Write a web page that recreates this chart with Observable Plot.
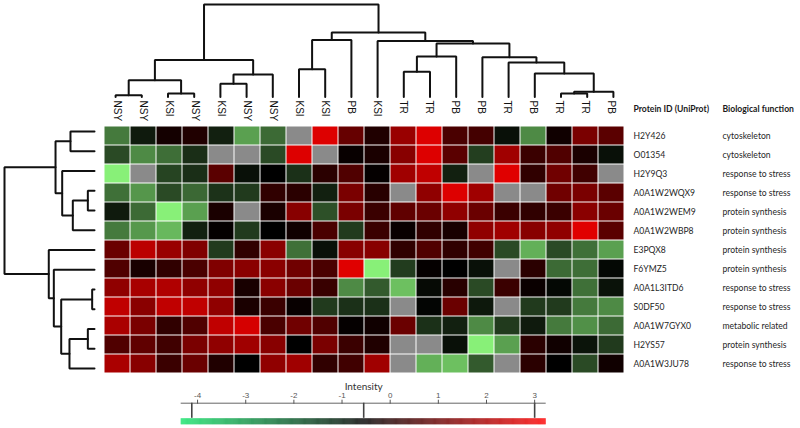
<!DOCTYPE html>
<html><head><meta charset="utf-8">
<script src="https://cdn.jsdelivr.net/npm/d3@7"></script>
<script src="https://cdn.jsdelivr.net/npm/@observablehq/plot@0.6"></script>
<style>
html,body{margin:0;padding:0;background:#fff;}
#chart{position:relative;width:800px;height:428px;overflow:hidden;background:#fff;}
</style></head><body><div id="chart"></div>
<script>
// ---- data ----
const colLabels = ["NSY","NSY","KSI","NSY","KSI","NSY","NSY","KSI","KSI","PB","KSI","TR","TR","PB","PB","TR","PB","TR","TR","PB"];
const proteinIds = ["H2Y426","O01354","H2Y9Q3","A0A1W2WQX9","A0A1W2WEM9","A0A1W2WBP8","E3PQX8","F6YMZ5","A0A1L3ITD6","S0DF50","A0A1W7GYX0","H2YS57","A0A1W3JU78"];
const functions = ["cytoskeleton","cytoskeleton","response to stress","response to stress","protein synthesis","protein synthesis","protein synthesis","protein synthesis","response to stress","response to stress","metabolic related","protein synthesis","response to stress"];

// intensity per protein (columns in display order), null = missing
const vH2Y426     = [-2.26,-0.91,-0.27,-0.10,-1.00,-2.79,-2.03, null, 2.53, 0.87,-0.10, 1.58, 2.53, 0.48, 0.40,-0.77,-2.48,-0.33, 1.15, 0.70];
const vO01354     = [-1.59,-2.48,-2.09,-1.19, null, null,-1.59, 2.53, null,-0.44,-0.19, 1.34, 2.53, 0.70,-1.42, 1.68, 0.26, 0.56,-0.19,-0.77];
const vH2Y9Q3     = [-3.91, null,-1.50,-1.19, 0.70,-0.77,-0.55,-1.22, 0.03, 0.56,-0.48, 1.68, 2.12,-1.00, null, 2.57, 0.12, 1.01, 0.34, null];
const vA0A1W2WQX9 = [-2.12,-2.65,-1.59,-2.01,-1.25,-1.36, 0.12, 0.03,-1.00, 1.15, 0.01, null, 1.45, 2.53, 1.68, null, null, 1.01, 1.15, 0.70];
const vA0A1W2WEM9 = [-0.91,-2.03,-3.91,-2.79,-0.19, null,-0.19, 1.34,-1.67, 1.15, 0.26, 0.79, 0.93, 1.45, 0.93, 0.26, 0.12, 0.26, 1.37, 0.93];
const vA0A1W2WBP8 = [-2.26,-2.68,-3.13,-1.00,-0.48,-1.36,-0.55,-0.33, 0.48,-1.36, 0.26,-0.44, 0.12,-0.22, 1.45, 1.68, 1.34, 1.45, 2.57, 0.70];
const vE3PQX8     = [ 0.93, 2.05, 1.58, 1.23,-1.36, 0.12, 1.37,-2.12,-0.77, 1.34, 1.34, 0.12, 0.56, 0.12, 0.34,-1.59,-3.01,-1.59,-2.12,-2.79];
const vF6YMZ5     = [ 0.56,-0.22, 0.12, 0.48, 1.23, 1.37, 1.37, 1.01, 0.48, 2.57,-3.91,-1.39,-0.48,-0.55,-0.77, null, 0.03,-2.03,-2.09,-0.66];
const vA0A1L3ITD6 = [ 1.45, 1.79, 1.90, 1.45, 1.45,-0.22, 1.37, 0.93, 0.23,-2.48,-1.81,-3.24,-0.69, 0.01,-1.59, 0.26,-0.41,-0.66,-2.12,-0.80];
const vS0DF50     = [ 2.12, 1.37, 2.12, 2.12, 1.45,-0.19, 0.26,-0.44,-1.36,-1.22,-1.22, null,-0.62, 0.93,-0.88, null,-1.36,-1.36,-2.26,-2.48];
const vA0A1W7GYX0 = [ 1.82, 1.15, 0.12, 0.56, 2.12, 2.41, 0.48, 1.01, 0.56,-0.48,-0.33, 0.93,-1.22,-1.00,-2.48,-1.36,-0.91,-2.26,-2.57,-2.03];
const vH2YS57     = [ 0.56, 0.79, 0.34, 1.15, 1.45, 1.68, 1.34,-0.55, 1.15, 0.26,-0.10, null, null,-0.77,-3.91,-2.79, 0.03,-0.33,-0.83,-1.36];
const vA0A1W3JU78 = [ 1.82, 1.34, 0.26, 0.93,-0.10,-0.55, 1.45, 1.68, 0.12, 0.34, 1.68, null,-3.01,-3.24,-1.81, null, 0.03,-0.55,-1.59,-0.33];
const rowValues = [vH2Y426,vO01354,vH2Y9Q3,vA0A1W2WQX9,vA0A1W2WEM9,vA0A1W2WBP8,vE3PQX8,vF6YMZ5,vA0A1L3ITD6,vS0DF50,vA0A1W7GYX0,vH2YS57,vA0A1W3JU78];

// column dendrogram: [childA, childB, height]; ids >= 20 refer to earlier merges
const colMerges = [
  [0,1,0.019],[2,3,0.037],[20,21,0.179],[4,5,0.142],[23,6,0.243],[22,24,0.399],
  [7,8,0.299],[26,9,0.616],[11,12,0.272],[28,13,0.437],[17,18,0.037],[30,19,0.056],
  [16,31,0.254],[15,32,0.373],[14,33,0.429],[29,34,0.578],[10,35,0.605],[27,36,0.698],[25,37,1.0]
];
// row dendrogram: ids >= 13 refer to earlier merges
const rowMerges = [
  [3,4,0.074],[13,5,0.241],[2,14,0.359],[0,1,0.267],[16,15,0.433],
  [8,9,0.026],[10,11,0.074],[19,12,0.278],[18,20,0.370],[7,21,0.452],[6,22,0.508],[17,23,1.0]
];

const legendTicks = [-4,-3,-2,-1,0,1,2,3];
const legendMarks = [-4.12,-0.55,3.0];
const legendExtent = [-4.34, 3.24];

// ---- helpers ----
function dendroPaths(n, merges) {
  const pos = d3.range(n), hgt = new Array(n).fill(0), out = [];
  merges.forEach(([a,b,h], k) => {
    out.push({id:k,p:pos[a],h:hgt[a]},{id:k,p:pos[a],h},{id:k,p:pos[b],h},{id:k,p:pos[b],h:hgt[b]});
    pos.push((pos[a]+pos[b])/2); hgt.push(h);
  });
  return out;
}
const overlay = {position:"absolute", left:"0px", top:"0px", background:"transparent", overflow:"visible"};
const W = 800, H = 428;
const labelFont = "Lato, 'Open Sans', sans-serif";
const colFont = "'Liberation Sans', Arial, sans-serif";
const labelSize = 8.6;

const cells = proteinIds.flatMap((id, r) => rowValues[r].map((v, c) => ({id, c, v})));

// ---- heatmap ----
const heat = Plot.plot({
  width: W, height: H,
  marginLeft: 102, marginRight: 174, marginTop: 121, marginBottom: 50,
  style: overlay,
  x: {type: "band", domain: d3.range(colLabels.length), padding: 0, axis: null},
  y: {type: "band", domain: proteinIds, padding: 0, axis: null},
  color: {type: "linear", domain: [-4.12, -0.55, 3.0], range: ["#90ff80", "#000000", "#ff0000"], interpolate: "rgb", clamp: true},
  marks: [
    Plot.cell(cells.filter(d => d.v == null), {x: "c", y: "id", fill: "#8a8a8a", inset: 0.5}),
    Plot.cell(cells.filter(d => d.v != null), {x: "c", y: "id", fill: "v", inset: 0.5}),
    Plot.text(d3.range(colLabels.length), {x: d => d, text: d => colLabels[d], frameAnchor: "top", dy: -21, rotate: 90,
      textAnchor: "start", lineAnchor: "middle", fontSize: 10, fontFamily: colFont, fill: "#111"}),
    Plot.text(proteinIds, {y: d => d, text: d => d, frameAnchor: "right", dx: 7, textAnchor: "start",
      fontSize: labelSize, fontFamily: labelFont, fill: "#262626"}),
    Plot.text(proteinIds, {y: d => d, text: (d, i) => functions[i], frameAnchor: "right", dx: 96, textAnchor: "start",
      fontSize: labelSize, fontFamily: labelFont, fill: "#262626"}),
    Plot.text(["Protein ID (UniProt)"], {frameAnchor: "top-right", dx: 7, dy: -12, textAnchor: "start", lineAnchor: "middle",
      fontSize: labelSize, fontWeight: "bold", fontFamily: labelFont, fill: "#1a1a1a"}),
    Plot.text(["Biological function"], {frameAnchor: "top-right", dx: 96, dy: -12, textAnchor: "start", lineAnchor: "middle",
      fontSize: labelSize, fontWeight: "bold", fontFamily: labelFont, fill: "#1a1a1a"})
  ]
});

// ---- column dendrogram ----
const topDendro = Plot.plot({
  width: W, height: H,
  marginLeft: 102, marginRight: 174, marginTop: 4, marginBottom: H - 96.4,
  style: overlay,
  x: {domain: [-0.5, colLabels.length - 0.5], axis: null},
  y: {domain: [0, 1], axis: null},
  marks: [
    Plot.line(dendroPaths(colLabels.length, colMerges), {x: "p", y: "h", z: "id", stroke: "#111", strokeWidth: 2, strokeLinejoin: "miter"})
  ]
});

// ---- row dendrogram ----
const leftDendro = Plot.plot({
  width: W, height: H,
  marginLeft: 4, marginRight: W - 94, marginTop: 121, marginBottom: 50,
  style: overlay,
  x: {domain: [1, 0], axis: null},
  y: {domain: [proteinIds.length - 0.5, -0.5], axis: null},
  marks: [
    Plot.line(dendroPaths(proteinIds.length, rowMerges), {x: "h", y: "p", z: "id", stroke: "#111", strokeWidth: 2, strokeLinejoin: "miter"})
  ]
});

// ---- legend ----
const legend = Plot.plot({
  width: W, height: H,
  marginLeft: 180.7, marginRight: W - 545.7, marginTop: 402.7, marginBottom: 3.7,
  style: overlay,
  x: {domain: legendExtent, axis: null},
  y: {domain: [0, 1], axis: null},
  color: {type: "linear", domain: [legendExtent[0], -0.55, legendExtent[1]], range: ["#18e46c", "#000000", "#ff0000"], interpolate: "rgb"},
  marks: [
    Plot.rect(d3.range(legendExtent[0], legendExtent[1], 0.01), {x1: d => d, x2: d => Math.min(d + 0.012, legendExtent[1]), y1: 0, y2: 0.28, fill: d => d}),
    Plot.ruleY([1], {x1: legendExtent[0], x2: legendExtent[1], stroke: "#666", strokeWidth: 1}),
    Plot.ruleX(legendMarks, {y1: 0.3, y2: 1, stroke: "#444", strokeWidth: 1.6}),
    Plot.axisX(legendTicks, {anchor: "top", tickSize: 4, tickPadding: 1, fontSize: 8, fontFamily: colFont, color: "#555", tickFormat: d => String(d)}),
    Plot.text(["Intensity"], {frameAnchor: "top", dy: -16, lineAnchor: "middle", fontSize: 10, fontFamily: labelFont, fill: "#333"})
  ]
});

const chart = document.getElementById("chart");
[heat, topDendro, leftDendro, legend].forEach(s => chart.appendChild(s));
</script>
</body></html>
